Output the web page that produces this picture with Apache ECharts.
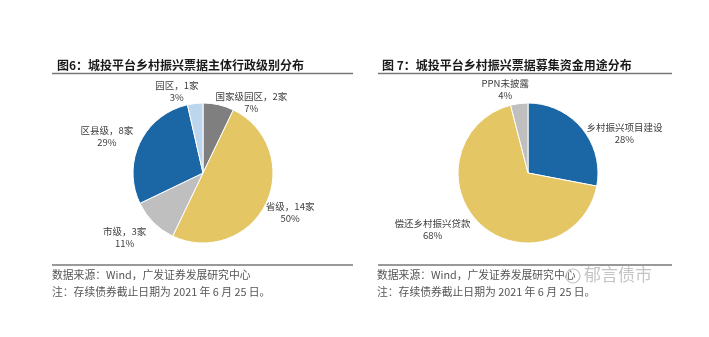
<!DOCTYPE html>
<html><head><meta charset="utf-8">
<script src="https://cdn.jsdelivr.net/npm/echarts@6/dist/echarts.min.js"></script>
<style>html,body{margin:0;padding:0;background:#fff}#c{width:709px;height:337px}</style>
</head><body><div id="c"></div>
<script>
const leftTitle = '图6：城投平台乡村振兴票据主体行政级别分布';
const rightTitle = '图 7：城投平台乡村振兴票据募集资金用途分布';
const leftCategories = ['国家级园区', '省级', '市级', '区县级', '园区'];
const leftCounts = [2, 14, 3, 8, 1];
const leftPercents = ['7%', '50%', '11%', '29%', '3%'];
const rightCategories = ['乡村振兴项目建设', '偿还乡村振兴贷款', 'PPN未披露'];
const rightValues = [28, 68, 4];
const rightPercents = ['28%', '68%', '4%'];
const sourceText = '数据来源：Wind，广发证券发展研究中心';
const noteText = '注：存续债券截止日期为 2021 年 6 月 25 日。';

const leftColors = ['#7f7f7f', '#e4c664', '#bfbfbf', '#1b66a5', '#bdd6ee'];
const rightColors = ['#1b66a5', '#e4c664', '#bfbfbf'];
// small label nudges (style only), in px
const leftNudge = [[23, 17], [-5, 0], [-8, 1], [-2, 2], [-15, 8]];
const rightNudge = [[7, 18], [-16, -9], [-10, 6]];
const FONT = '"Noto Sans CJK SC", "Liberation Sans", sans-serif';

const chart = echarts.init(document.getElementById('c'), null, {renderer: 'canvas'});

function makeLayout(values, cx, cy, r, gap, nudges) {
  const total = values.reduce((a, b) => a + b, 0);
  return function (params) {
    const i = params.dataIndex;
    let before = 0;
    for (let k = 0; k < i; k++) before += values[k];
    const mid = (before + values[i] / 2) / total * Math.PI * 2;
    const dx = Math.sin(mid), dy = -Math.cos(mid);
    const w = params.labelRect.width, h = params.labelRect.height;
    return {
      x: cx + (r + gap) * dx + dx * w / 2 + nudges[i][0],
      y: cy + (r + gap) * dy + dy * h / 2 + nudges[i][1],
      align: 'center', verticalAlign: 'middle', hideOverlap: false
    };
  };
}

const labelStyle = {
  show: true, position: 'outside', color: '#404040', fontSize: 9.5,
  fontFamily: FONT, lineHeight: 12, align: 'center', overflow: 'none'
};

chart.setOption({
  animation: false,
  backgroundColor: '#fff',
  title: [
    {text: leftTitle, left: 52, top: 54, textStyle: {fontSize: 12, fontWeight: 'bold', color: '#1a1a1a', fontFamily: FONT}},
    {text: rightTitle, left: 377, top: 54, textStyle: {fontSize: 12, fontWeight: 'bold', color: '#1a1a1a', fontFamily: FONT}}
  ],
  graphic: [
    {type: 'line', shape: {x1: 52, y1: 73.5, x2: 353, y2: 73.5}, style: {stroke: '#777', lineWidth: 1.5}},
    {type: 'line', shape: {x1: 378, y1: 73.5, x2: 672, y2: 73.5}, style: {stroke: '#777', lineWidth: 1.5}},
    {type: 'line', shape: {x1: 52, y1: 265, x2: 353, y2: 265}, style: {stroke: '#777', lineWidth: 1.5}},
    {type: 'line', shape: {x1: 378, y1: 265, x2: 672, y2: 265}, style: {stroke: '#777', lineWidth: 1.5}},
    {type: 'text', left: 52, top: 270, style: {text: sourceText, fontSize: 10.8, fill: '#555', fontFamily: FONT}},
    {type: 'text', left: 52, top: 287, style: {text: noteText, fontSize: 10.8, fill: '#555', fontFamily: FONT}},
    {type: 'text', left: 377, top: 270, style: {text: sourceText, fontSize: 10.8, fill: '#555', fontFamily: FONT}},
    {type: 'text', left: 377, top: 287, style: {text: noteText, fontSize: 10.8, fill: '#555', fontFamily: FONT}},
    {type: 'circle', shape: {cx: 573, cy: 276, r: 7}, style: {fill: 'none', stroke: '#c4c4c4', lineWidth: 1.2}},
    {type: 'text', left: 584, top: 266, style: {text: '郁言债市', fontSize: 17, fill: '#c4c4c4', fontFamily: FONT}}
  ],
  series: [
    {
      type: 'pie', center: [203, 173], radius: 70, startAngle: 90, clockwise: true,
      data: leftCategories.map((n, i) => ({name: n, value: leftCounts[i], itemStyle: {color: leftColors[i]}})),
      label: Object.assign({}, labelStyle, {
        formatter: p => p.name + '，' + leftCounts[p.dataIndex] + '家\n' + leftPercents[p.dataIndex]
      }),
      labelLine: {show: false},
      labelLayout: makeLayout(leftCounts, 203, 173, 70, 8, leftNudge),
      itemStyle: {borderColor: '#fff', borderWidth: 1}
    },
    {
      type: 'pie', center: [528, 173], radius: 70, startAngle: 90, clockwise: true,
      data: rightCategories.map((n, i) => ({name: n, value: rightValues[i], itemStyle: {color: rightColors[i]}})),
      label: Object.assign({}, labelStyle, {
        formatter: p => p.name + '\n' + rightPercents[p.dataIndex]
      }),
      labelLine: {show: false},
      labelLayout: makeLayout(rightValues, 528, 173, 70, 8, rightNudge),
      itemStyle: {borderColor: '#fff', borderWidth: 1}
    }
  ]
});
</script></body></html>
